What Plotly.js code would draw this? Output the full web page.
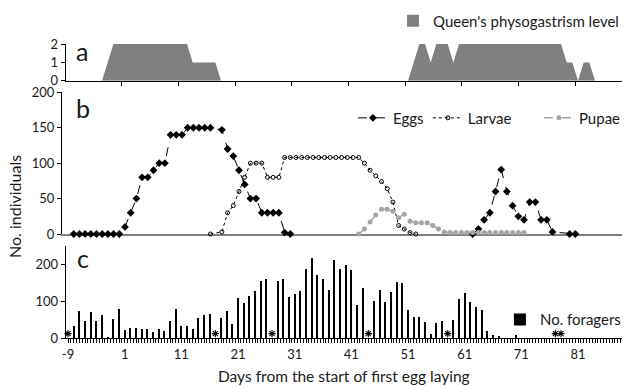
<!DOCTYPE html>
<html><head><meta charset="utf-8">
<script src="https://cdn.plot.ly/plotly-3.0.1.min.js"></script>
<style>html,body{margin:0;padding:0;background:#fff}#chart{width:627px;height:387px}</style>
</head><body><div id="chart"></div>
<script>
// ---- data ----
const dayTicks = [-9, 1, 11, 21, 31, 41, 51, 61, 71, 81];

// panel a: queen's physogastrism level
const queenDays  = [-9, -3, -1, 12, 13, 17, 18, 51, 53, 54, 55, 56, 58, 59, 60, 78, 79, 80, 81, 82, 83, 84, 88];
const queenLevel = [ 0,  0,  2,  2,  1,  1,  0,  0,  2,  2,  1,  2,  2,  1,  2,  2,  1,  1,  0,  1,  1,  0,  0];

// panel b: brood
const eggDays = [-8,-7,-6,-5,-4,-3,-2,-1,0,1,2,3,4,5,6,7,8,9,10,11,12,13,14,15,16,18,19,20,21,22,23,24,25,26,27,28,29,30,null,62,63,64,65,66,67,68,69,70,71,72,73,74,75,76,79,80];
const eggCounts = [0,0,0,0,0,0,0,0,0,10,30,50,80,80,90,100,100,140,140,140,150,150,150,150,150,147,120,110,90,70,50,50,30,30,30,30,2,0,null,0,7,20,30,60,91,60,40,25,20,45,45,20,20,3,0,0];

const larvaDays = [16,18,19,20,21,22,23,24,25,26,27,28,29,30,31,32,33,34,35,36,37,38,39,40,41,42,43,44,45,46,47,48,49,50,51,52];
const larvaCounts = [0,3,30,40,60,80,100,100,100,80,80,80,108,108,108,108,108,108,108,108,108,108,108,108,108,108,100,90,82,74,64,45,12,7,2,0];

const pupaDays = [42,43,44,45,46,47,48,49,50,51,52,53,54,55,56,57,58,59,60,61,62,63,64,65,66,67,68,69,70,71];
const pupaCounts = [0,7,17,27,35,35,32,23,28,18,16,16,16,12,7,3,2,2,2,2,2,2,2,2,2,2,2,2,2,2];

// panel c: foragers, days -9 .. 70 (later days are 0)
const foragerFirstDay = -9;
const foragerCounts = [0,32,73,47,70,47,63,3,52,80, 21,28,28,24,24,16,24,18,47,78,
  32,32,24,55,62,65,0,55,73,39, 109,96,114,127,155,160,0,155,160,111,
  119,129,189,217,172,160,130,212,188,200, 184,89,135,0,102,130,98,126,153,150,
  77,56,56,43,11,42,47,0,50,105, 123,99,83,75,19,8,5,1,0,8];
const starDays = [-9, 17, 27, 44, 58, 77, 78];

// ---- derived ----
const foragerDays = foragerCounts.map((v, i) => foragerFirstDay + i);
const boundaryTicks = dayTicks.map(d => d - 0.5);

const FONT = 'Lato, "Open Sans", sans-serif';
const TXT = '#1a1a1a';

const traces = [
  {type: 'scatter', x: queenDays, y: queenLevel, mode: 'lines', fill: 'tozeroy',
   fillcolor: '#808080', line: {width: 0, color: '#808080'}, xaxis: 'x', yaxis: 'y',
   showlegend: false, hoverinfo: 'skip'},
  {type: 'bar', x: [null], y: [null], name: "Queen's physogastrism level",
   marker: {color: '#808080'}, xaxis: 'x', yaxis: 'y', legend: 'legend'},

  {type: 'scatter', x: eggDays, y: eggCounts, name: 'Eggs', mode: 'lines+markers',
   line: {color: '#000', width: 1, dash: 'dash'}, marker: {symbol: 'diamond', size: 6, color: '#000'},
   xaxis: 'x2', yaxis: 'y2', legend: 'legend2', cliponaxis: false, connectgaps: false},
  {type: 'scatter', x: larvaDays, y: larvaCounts, name: 'Larvae', mode: 'lines+markers',
   line: {color: '#000', width: 1, dash: 'dot'},
   marker: {symbol: 'circle-open', size: 4, color: '#000', line: {width: 1}},
   xaxis: 'x2', yaxis: 'y2', legend: 'legend3', cliponaxis: false},
  {type: 'scatter', x: pupaDays, y: pupaCounts, name: 'Pupae', mode: 'lines+markers',
   line: {color: '#a6a6a6', width: 1.5, dash: 'dash'}, marker: {symbol: 'circle', size: 5, color: '#a6a6a6'},
   xaxis: 'x2', yaxis: 'y2', legend: 'legend4', cliponaxis: false},

  {type: 'bar', x: foragerDays, y: foragerCounts, name: 'No. foragers', width: 0.36,
   marker: {color: '#000'}, xaxis: 'x3', yaxis: 'y3', legend: 'legend5'},
  {type: 'scatter', x: starDays, y: starDays.map(() => 12), mode: 'markers',
   marker: {symbol: 'asterisk-open', size: 6, color: '#000', line: {color: '#222', width: 1.1}},
   xaxis: 'x3', yaxis: 'y3', showlegend: false, cliponaxis: false, hoverinfo: 'skip'}
];

const axBase = {showgrid: false, zeroline: false, showline: true, linecolor: '#000', linewidth: 1,
  ticks: 'outside', ticklen: 4, tickcolor: '#000', tickfont: {family: FONT, size: 13, color: TXT}, fixedrange: true};

const xRangeAC = [-9.41, 88.76];
const xRangeB = [-10.05, 88.19];

const legBase = {font: {family: FONT, size: 15, color: TXT}, bgcolor: 'rgba(0,0,0,0)', borderwidth: 0,
  yanchor: 'middle', xanchor: 'left', itemclick: false};

const layout = {
  width: 627, height: 387,
  margin: {l: 62, r: 5, t: 44, b: 49, autoexpand: false},
  paper_bgcolor: '#fff', plot_bgcolor: '#fff',
  font: {family: FONT, color: TXT},
  bargap: 0,
  xaxis: Object.assign({}, axBase, {domain: [0.0066, 1], range: xRangeAC, anchor: 'y',
    tickvals: boundaryTicks, showticklabels: false}),
  yaxis: Object.assign({}, axBase, {domain: [0.875, 1], range: [0, 2], tickvals: [0, 1, 2], anchor: 'x'}),
  xaxis2: Object.assign({}, axBase, {domain: [0, 1], range: xRangeB, anchor: 'y2', ticks: '',
    showticklabels: false, linecolor: '#808080', linewidth: 2, layer: 'below traces'}),
  yaxis2: Object.assign({}, axBase, {domain: [0.3537, 0.8357], range: [0, 200], dtick: 50, anchor: 'x2'}),
  xaxis3: Object.assign({}, axBase, {domain: [0.0066, 1], range: xRangeAC, anchor: 'y3',
    tickvals: dayTicks, ticktext: dayTicks.map(String),
    minor: {dtick: 0.5, tick0: -9, ticks: 'outside', ticklen: 4, tickcolor: '#000', showgrid: false},
    title: {text: 'Days from the start of first egg laying', font: {family: FONT, size: 15.5, color: TXT}, standoff: 10}}),
  yaxis3: Object.assign({}, axBase, {domain: [0, 0.3125], range: [0, 250], tickvals: [0, 100, 200], anchor: 'x3'}),
  legend:  Object.assign({}, legBase, {x: 1.0036, xanchor: 'right', y: 1.078}),
  legend2: Object.assign({}, legBase, {x: 0.5196, y: 0.748}),
  legend3: Object.assign({}, legBase, {x: 0.6533, y: 0.748}),
  legend4: Object.assign({}, legBase, {x: 1.007, xanchor: 'right', y: 0.748}),
  legend5: Object.assign({}, legBase, {x: 1.007, xanchor: 'right', y: 0.062}),
  annotations: [
    {text: 'No. individuals', xref: 'paper', yref: 'paper', x: -0.0839, y: 0.4456, textangle: -90,
     showarrow: false, xanchor: 'center', yanchor: 'middle', font: {family: FONT, size: 16, color: TXT}},
    {text: 'a', xref: 'paper', yref: 'paper', x: 0.022, y: 0.976, showarrow: false, xanchor: 'left', yanchor: 'middle',
     font: {family: FONT, size: 25, color: TXT}},
    {text: 'b', xref: 'paper', yref: 'paper', x: 0.022, y: 0.782, showarrow: false, xanchor: 'left', yanchor: 'middle',
     font: {family: FONT, size: 25, color: TXT}},
    {text: 'c', xref: 'paper', yref: 'paper', x: 0.024, y: 0.272, showarrow: false, xanchor: 'left', yanchor: 'middle',
     font: {family: FONT, size: 25, color: TXT}}
  ]
};

Plotly.newPlot('chart', traces, layout, {staticPlot: true, displayModeBar: false});
</script>
</body></html>
